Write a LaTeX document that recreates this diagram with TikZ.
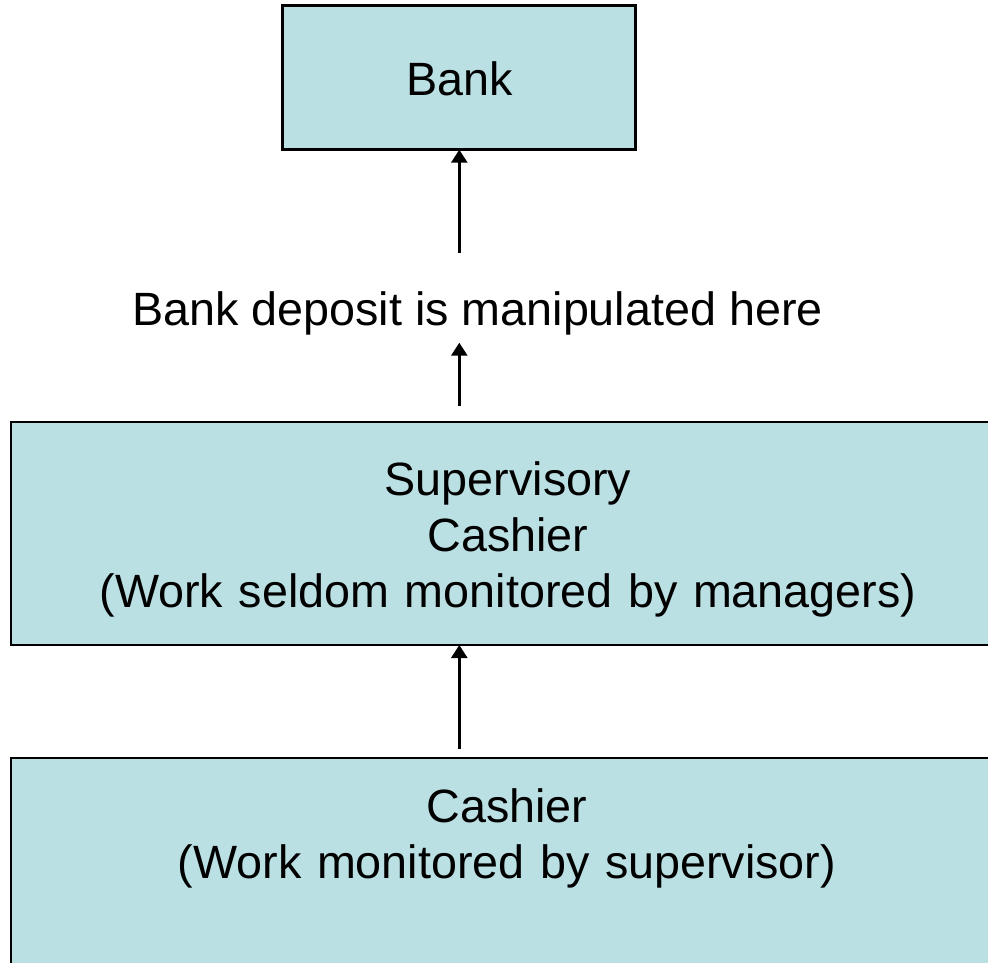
\documentclass[tikz,border=0pt]{standalone}
\usepackage{fontspec}
\setmainfont{Liberation Sans}
\usetikzlibrary{arrows.meta}
\definecolor{boxfill}{RGB}{187,224,227}
\begin{document}
\begin{tikzpicture}[x=1pt,y=1pt,
  box/.style={draw=black,fill=boxfill,line width=2.6pt,inner sep=0pt,outer sep=0pt},
  lbl/.style={inner sep=0pt,outer sep=0pt,font=\fontsize{46.7}{56}\selectfont},
  mlbl/.style={lbl,text width=990pt,align=center},
  conn/.style={line width=2.6pt,-{Triangle[width=16pt,length=13pt]}}]
\useasboundingbox (0,0) rectangle (988,-963);
\clip (0,0) rectangle (988,-963);
% boxes
\node[box,minimum width=352.8pt,minimum height=144pt] (bank) at (458.9,-77.7) {};
\node[box,minimum width=994pt,minimum height=223pt] (sup) at (508,-533.5) {};
\node[box,minimum width=994pt,minimum height=232pt] (cash) at (508,-874) {};
% texts
\node[lbl,anchor=base] (banktxt) at (459.5,-96) {Bank};
\node[lbl,anchor=base] (dep) at (477.5,-325.7) {Bank deposit is manipulated here};
\node[mlbl,anchor=base] (suptxt) at (508,-495) {Supervisory\\Cashier\\(Work seldom monitored by managers)};
\node[mlbl,anchor=base] (cashtxt) at (507,-822.7) {Cashier\\(Work monitored by supervisor)};
% connectors
\coordinate (a1s) at (459.3,-253);
\coordinate (a2s) at (459.3,-406);
\coordinate (a2e) at (459.3,-342.7);
\coordinate (a3s) at (459.3,-749);
\draw[conn] (a1s) -- (bank.south -| a1s);
\draw[conn] (a2s) -- (a2e);
\draw[conn] (a3s) -- (sup.south -| a3s);
\end{tikzpicture}
\end{document}
